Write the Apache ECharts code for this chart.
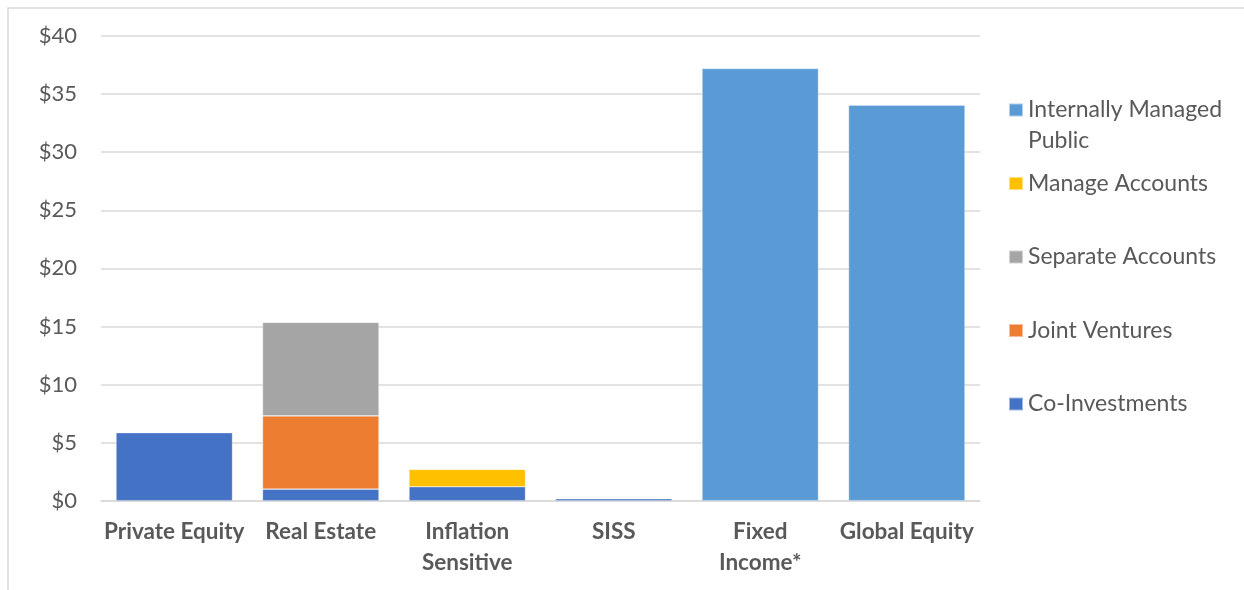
<!DOCTYPE html>
<html>
<head>
<meta charset="utf-8">
<script src="https://cdn.jsdelivr.net/npm/echarts@6/dist/echarts.min.js"></script>
<style>
  html, body { margin: 0; padding: 0; background: #fff; }
  #chart { width: 1244px; height: 590px; }
</style>
</head>
<body>
<div id="chart"></div>
<script>
const categories = ['Private Equity', 'Real Estate', 'Inflation\nSensitive', 'SISS', 'Fixed\nIncome*', 'Global Equity']
const coInvestments = [5.85, 1.0, 1.2, 0.17, null, null]
const jointVentures = [null, 6.3, null, null, null, null]
const separateAccounts = [null, 8.05, null, null, null, null]
const manageAccounts = [null, null, 1.5, null, null, null]
const internallyManaged = [null, null, null, null, 37.2, 34.05]
const yTicks = [0, 5, 10, 15, 20, 25, 30, 35, 40]

const font = 'Lato, "Open Sans", sans-serif'
const textColor = '#595959'

const chart = echarts.init(document.getElementById('chart'))

const makeSeries = (name, data, color) => ({
  name,
  type: 'bar',
  stack: 'total',
  data,
  barCategoryGap: '20.5%',
  itemStyle: {
    color,
    borderColor: 'rgba(255,255,255,0.5)',
    borderWidth: 0.6
  }
})

// every legend entry is three lines tall so the marker sits on the first text line
const legendLabel = (name) =>
  name === 'Internally Managed Public' ? ' \nInternally Managed\nPublic' : ' \n' + name + '\n '

const option = {
  animation: false,
  textStyle: { fontFamily: font },
  graphic: [{
    type: 'rect',
    shape: { x: 8, y: 8, width: 1250, height: 600 },
    style: { fill: 'none', stroke: '#d9d9d9', lineWidth: 1.5 },
    silent: true
  }],
  grid: { left: 101, right: 264, top: 36, bottom: 89.3 },
  legend: {
    orient: 'vertical',
    left: 1008,
    top: 63.5,
    padding: 0,
    itemWidth: 14,
    itemHeight: 13,
    itemGap: -19.5,
    icon: 'rect',
    textStyle: {
      color: textColor,
      fontSize: 23,
      fontFamily: font,
      lineHeight: 31
    },
    data: ['Internally Managed Public', 'Manage Accounts', 'Separate Accounts', 'Joint Ventures', 'Co-Investments'],
    formatter: legendLabel
  },
  xAxis: {
    type: 'category',
    data: categories,
    axisLine: { lineStyle: { color: '#d9d9d9', width: 1.5 } },
    axisTick: { show: false },
    axisLabel: {
      color: textColor,
      fontSize: 22.5,
      fontWeight: 'bold',
      fontFamily: font,
      lineHeight: 31,
      margin: 16,
      interval: 0
    }
  },
  yAxis: {
    type: 'value',
    min: yTicks[0],
    max: yTicks[yTicks.length - 1],
    interval: 5,
    axisLine: { show: false },
    axisTick: { show: false },
    splitLine: { lineStyle: { color: '#d9d9d9', width: 1.5 } },
    axisLabel: {
      color: textColor,
      fontSize: 22,
      fontFamily: font,
      margin: 24,
      formatter: (v) => '$' + v
    }
  },
  series: [
    makeSeries('Co-Investments', coInvestments, '#4472C4'),
    makeSeries('Joint Ventures', jointVentures, '#ED7D31'),
    makeSeries('Separate Accounts', separateAccounts, '#A5A5A5'),
    makeSeries('Manage Accounts', manageAccounts, '#FFC000'),
    makeSeries('Internally Managed Public', internallyManaged, '#5B9BD5')
  ]
}

chart.setOption(option)
window.addEventListener('resize', () => chart.resize())
</script>
</body>
</html>
